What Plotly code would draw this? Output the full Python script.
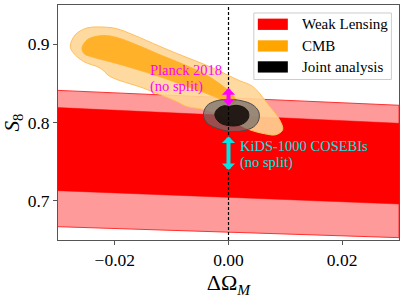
import plotly.graph_objects as go

# ---------------- data ----------------
x_range = [-0.03, 0.03]
y_range = [0.65, 0.95]
x_ticks = [-0.02, 0.0, 0.02]
y_ticks = [0.7, 0.8, 0.9]

# Weak lensing bands (linear in x)
wl_x = [-0.03, 0.03]
wl_outer_top = [0.841, 0.822]
wl_inner_top = [0.819, 0.799]
wl_inner_bot = [0.713, 0.696]
wl_outer_bot = [0.667, 0.653]

# CMB contours
cmb_outer_x = [-0.02784, -0.02696, -0.02491, -0.02205, -0.01965, -0.01679, -0.01205,
               -0.00854, -0.00328, 0.00198, 0.00426, 0.00725, 0.00900, 0.00953,
               0.00830, 0.00637, 0.00374, 0.00023, -0.00416, -0.00731, -0.00912,
               -0.01498, -0.02082, -0.02258, -0.02551, -0.02726]
cmb_outer_y = [0.8971, 0.9120, 0.9206, 0.9218, 0.9197, 0.9120, 0.8971,
               0.8865, 0.8712, 0.8533, 0.8460, 0.8204, 0.8034, 0.7907,
               0.7843, 0.7856, 0.7907, 0.8034, 0.8162, 0.8204, 0.8268,
               0.8439, 0.8587, 0.8695, 0.8779, 0.8886]

cmb_inner_x = [-0.02579, -0.02521, -0.02433, -0.02200, -0.01965, -0.01614, -0.01205,
               -0.00912, -0.00451, -0.00153, 0.00058, 0.00128, 0.00058, -0.00118,
               -0.00416, -0.00767, -0.01205, -0.01679, -0.02082, -0.02381, -0.02539]
cmb_inner_y = [0.8950, 0.9031, 0.9078, 0.9111, 0.9086, 0.8992, 0.8865,
               0.8779, 0.8631, 0.8494, 0.8367, 0.8277, 0.8239, 0.8290,
               0.8379, 0.8469, 0.8584, 0.8692, 0.8775, 0.8833, 0.8877]

# Joint analysis contours
joint_outer_x = [-0.00442, -0.00381, -0.00240, -0.00012, 0.00233, 0.00426, 0.00532,
                 0.00532, 0.00444, 0.00251, 0.00023, -0.00223, -0.00381]
joint_outer_y = [0.8098, 0.8213, 0.8271, 0.8296, 0.8277, 0.8226, 0.8137,
                 0.8034, 0.7945, 0.7894, 0.7888, 0.7932, 0.7996]
joint_inner_x = [-0.00240, -0.00188, -0.00082, 0.00023, 0.00128, 0.00251, 0.00339,
                 0.00356, 0.00304, 0.00181, 0.00023, -0.00118, -0.00205]
joint_inner_y = [0.8111, 0.8175, 0.8213, 0.8207, 0.8220, 0.8201, 0.8149,
                 0.8073, 0.8009, 0.7964, 0.7958, 0.7983, 0.8034]

# no-split constraints (S8 ranges)
planck_range = [0.8197, 0.8439]
kids_range = [0.7374, 0.7821]

legend_labels = ["Weak Lensing", "CMB", "Joint analysis"]
legend_colors = ["#ff0000", "#ffa500", "#000000"]

# ---------------- figure ----------------
SERIF = "Liberation Serif, Times New Roman, serif"
fig = go.Figure()


def closed(xs, ys):
    return list(xs) + [xs[0]], list(ys) + [ys[0]]


# weak lensing
fig.add_trace(go.Scatter(
    x=wl_x + wl_x[::-1], y=wl_outer_top + wl_outer_bot[::-1],
    fill="toself", fillcolor="#ff9a9a", mode="lines",
    line=dict(color="#ff3030", width=1), hoverinfo="skip", showlegend=False))
fig.add_trace(go.Scatter(
    x=wl_x + wl_x[::-1], y=wl_inner_top + wl_inner_bot[::-1],
    fill="toself", fillcolor="#ff0000", mode="lines",
    line=dict(color="#ff0000", width=0.5), hoverinfo="skip", showlegend=False))

# CMB
cx, cy = closed(cmb_outer_x, cmb_outer_y)
fig.add_trace(go.Scatter(
    x=cx, y=cy, fill="toself", fillcolor="rgba(255,214,150,0.9)", mode="lines",
    line=dict(color="#ffbe5c", width=1, shape="spline", smoothing=1.0),
    hoverinfo="skip", showlegend=False))
cx, cy = closed(cmb_inner_x, cmb_inner_y)
fig.add_trace(go.Scatter(
    x=cx, y=cy, fill="toself", fillcolor="#ffb12a", mode="lines",
    line=dict(color="#ffb12a", width=0.8, shape="spline", smoothing=1.0),
    hoverinfo="skip", showlegend=False))

# Joint
cx, cy = closed(joint_outer_x, joint_outer_y)
fig.add_trace(go.Scatter(
    x=cx, y=cy, fill="toself", fillcolor="rgba(115,110,108,0.72)", mode="lines",
    line=dict(color="#4a4a4a", width=1, shape="spline", smoothing=1.0),
    hoverinfo="skip", showlegend=False))
cx, cy = closed(joint_inner_x, joint_inner_y)
fig.add_trace(go.Scatter(
    x=cx, y=cy, fill="toself", fillcolor="rgba(28,20,16,0.95)", mode="lines",
    line=dict(color="#1a1410", width=1, shape="spline", smoothing=1.0),
    hoverinfo="skip", showlegend=False))

# arrows (double headed)
for rng, col in [(planck_range, "#ff00ff"), (kids_range, "#00e5e5")]:
    fig.add_annotation(x=0, y=rng[1], ax=0, ay=rng[0], xref="x", yref="y",
                       axref="x", ayref="y", text="", showarrow=True,
                       arrowhead=1, startarrowhead=1, arrowside="end+start",
                       arrowsize=0.55, startarrowsize=0.55, arrowwidth=4,
                       arrowcolor=col)

# vertical dashed line at zero
fig.add_trace(go.Scatter(
    x=[0, 0], y=y_range, mode="lines",
    line=dict(color="black", width=1.2, dash="3px,2px"),
    hoverinfo="skip", showlegend=False))

# labels
fig.add_annotation(x=-0.0142, y=0.8667, xref="x", yref="y", text="Planck 2018",
                   showarrow=False, xanchor="left", yanchor="middle",
                   font=dict(family=SERIF, size=14.5, color="#ff00ff"))
fig.add_annotation(x=-0.0142, y=0.8462, xref="x", yref="y", text="(no split)",
                   showarrow=False, xanchor="left", yanchor="middle",
                   font=dict(family=SERIF, size=14.5, color="#ff00ff"))
fig.add_annotation(x=0.0017, y=0.7702, xref="x", yref="y", text="KiDS-1000 COSEBIs",
                   showarrow=False, xanchor="left", yanchor="middle",
                   font=dict(family=SERIF, size=14.5, color="#00e5e5"))
fig.add_annotation(x=0.0017, y=0.7492, xref="x", yref="y", text="(no split)",
                   showarrow=False, xanchor="left", yanchor="middle",
                   font=dict(family=SERIF, size=14.5, color="#00e5e5"))

# manual legend
fig.add_shape(type="rect", xref="paper", yref="paper", x0=0.5743, x1=0.9777,
              y0=0.683, y1=0.966, fillcolor="rgba(255,255,255,0.85)",
              line=dict(color="#cccccc", width=1), layer="above")
row_y = [0.918, 0.8258, 0.7365]
for lab, col, ry in zip(legend_labels, legend_colors, row_y):
    fig.add_shape(type="rect", xref="paper", yref="paper", x0=0.586, x1=0.674,
                  y0=ry - 0.024, y1=ry + 0.024, fillcolor=col,
                  line=dict(width=0), layer="above")
    fig.add_annotation(x=0.709, y=ry, xref="paper", yref="paper", text=lab,
                       showarrow=False, xanchor="left", yanchor="middle",
                       font=dict(family=SERIF, size=15, color="black"))

axis_common = dict(showgrid=False, zeroline=False, showline=True, mirror=True,
                   linecolor="#555555", linewidth=1, ticks="outside", ticklen=4,
                   tickcolor="#555555", automargin=False,
                   tickfont=dict(family=SERIF, size=17.5, color="black"))

fig.update_layout(
    width=405, height=298,
    margin=dict(l=58, r=6, t=5, b=58),
    paper_bgcolor="white", plot_bgcolor="white",
    showlegend=False,
    font=dict(family=SERIF),
    xaxis=dict(range=x_range, tickvals=x_ticks, tickformat=".2f",
               title=dict(text="ΔΩ<sub><i>M</i></sub>", standoff=8,
                          font=dict(family=SERIF, size=22, color="black")),
               **axis_common),
    yaxis=dict(range=y_range, tickvals=y_ticks, tickformat=".1f",
               title=dict(text="<i>S</i><sub>8</sub>", standoff=4,
                          font=dict(family=SERIF, size=21, color="black")),
               **axis_common),
)

fig.write_html("out.html", config={"displayModeBar": False},
               post_script="document.body.style.margin='0';document.body.style.padding='0';")
